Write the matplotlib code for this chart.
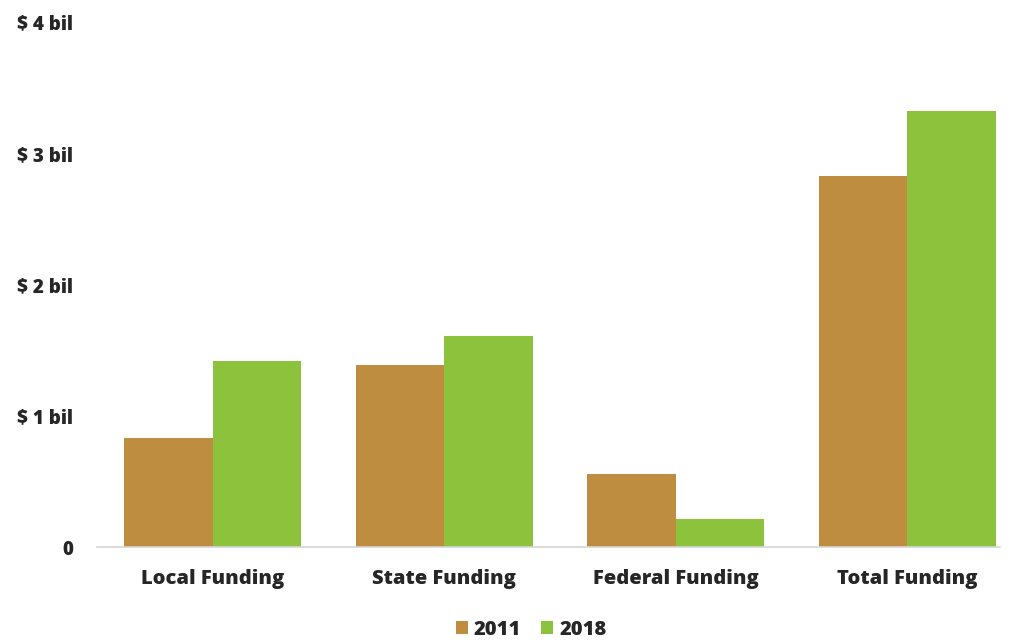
import matplotlib.pyplot as plt
import numpy as np

categories = ["Local Funding", "State Funding", "Federal Funding", "Total Funding"]
years = ["2011", "2018"]
funding_2011 = [0.83, 1.39, 0.56, 2.83]   # billions of dollars
funding_2018 = [1.42, 1.61, 0.21, 3.32]
y_ticks = [0, 1, 2, 3, 4]
y_tick_labels = ["0", "$ 1 bil", "$ 2 bil", "$ 3 bil", "$ 4 bil"]

colors = ["#BF8D40", "#8DC33C"]
text_color = "#262626"

plt.rcParams["font.family"] = ["Open Sans", "DejaVu Sans"]

fig = plt.figure(figsize=(10.1, 6.4), dpi=100)
ax = fig.add_axes([0.096, 0.1453, 0.894, 0.8203])

x = np.arange(len(categories))
w = 0.383
ax.bar(x - w / 2, funding_2011, w, color=colors[0], label=years[0])
ax.bar(x + w / 2, funding_2018, w, color=colors[1], label=years[1])

ax.set_xlim(-0.5, 3.4)
ax.set_ylim(0, 4)
ax.set_yticks(y_ticks)
ax.set_yticklabels(y_tick_labels, fontsize=13.5, fontweight="heavy", color=text_color)
ax.set_xticks(x)
ax.set_xticklabels(categories, fontsize=14.5, fontweight="heavy", color=text_color)
ax.tick_params(axis="both", length=0)
ax.tick_params(axis="y", pad=17)
ax.tick_params(axis="x", pad=16)

for side in ["top", "right", "left"]:
    ax.spines[side].set_visible(False)
ax.spines["bottom"].set_color("#d6d6d6")
ax.spines["bottom"].set_linewidth(1.2)

leg = fig.legend(loc="lower center", bbox_to_anchor=(0.526, -0.028), ncol=2,
                 frameon=False, fontsize=14.5, handlelength=0.6, handleheight=0.6,
                 handletextpad=0.3, columnspacing=1.0)
for t in leg.get_texts():
    t.set_color(text_color)
    t.set_fontweight("heavy")

fig.savefig("out.png", dpi=100)
